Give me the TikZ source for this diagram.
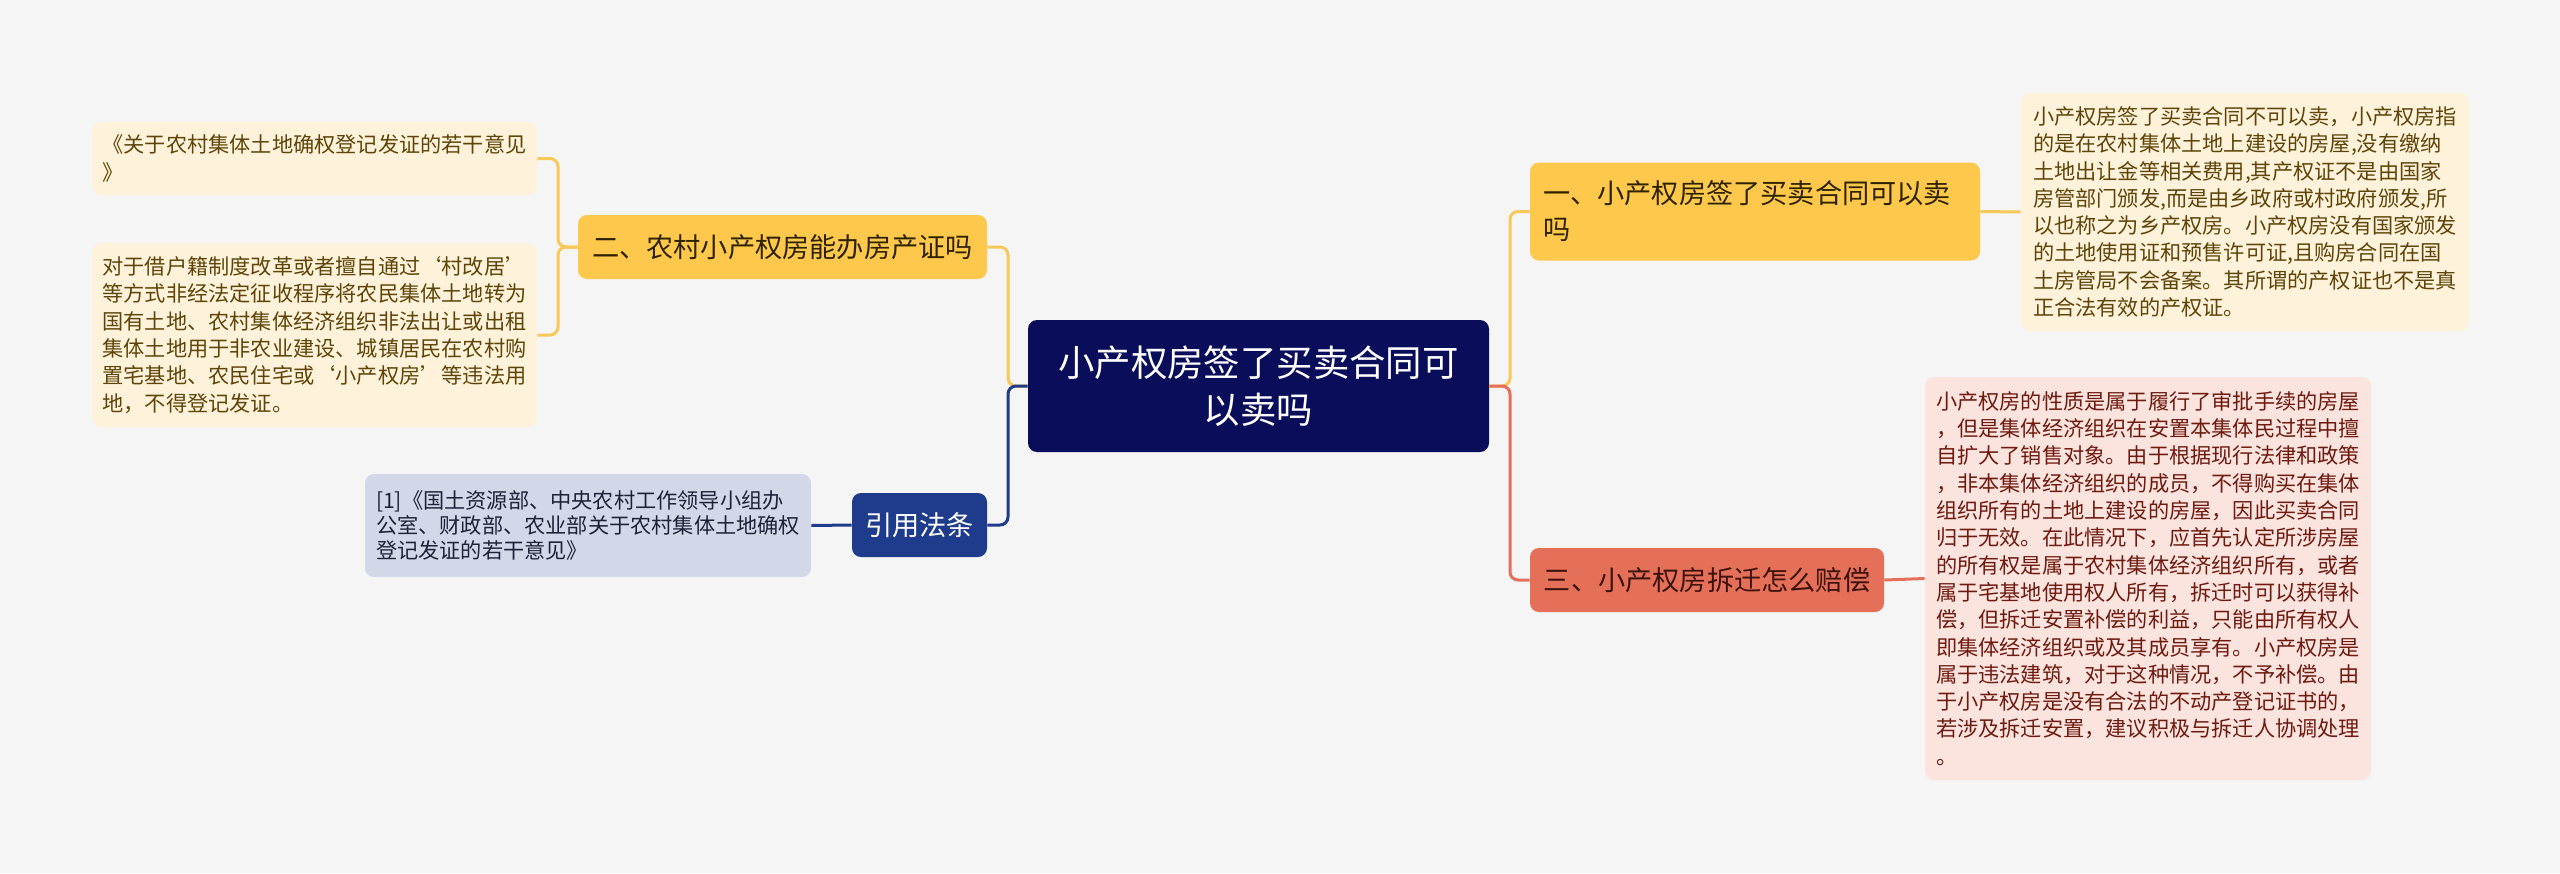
\documentclass[tikz,border=0pt]{standalone}
\usepackage{fontspec}
\setmainfont{Noto Sans CJK SC}
\newcommand{\fwq}[1]{{\addfontfeature{RawFeature=+fwid}#1}}
\definecolor{bgc}{HTML}{F5F5F5}
\definecolor{navy}{HTML}{0A0E5A}
\definecolor{amber}{HTML}{FDC84C}
\definecolor{amberline}{HTML}{F8C858}
\definecolor{coral}{HTML}{E5705A}
\definecolor{blueb}{HTML}{1F3C8C}
\definecolor{cream}{HTML}{FEF3DA}
\definecolor{pinkl}{HTML}{FBE3DE}
\definecolor{grayb}{HTML}{D3D8E8}
\definecolor{browntxt}{HTML}{5E4408}
\definecolor{redtxt}{HTML}{6E1A10}
\definecolor{darktxt}{HTML}{1E2238}
\definecolor{brtxt}{HTML}{2E2300}
\definecolor{cotxt}{HTML}{3D120A}
\begin{document}
\begin{tikzpicture}[x=0.5pt,y=-0.5pt,
  box/.style={rounded corners=4.5pt, inner sep=0pt},
  leaffont/.style={font=\fontsize{10.6pt}{13.65pt}\selectfont},
  brfont/.style={font=\fontsize{13.6pt}{18pt}\selectfont},
  conn/.style={line width=1.5pt, rounded corners=4pt}]
\fill[bgc] (0,0) rectangle (2560,873);
\useasboundingbox (0,0) rectangle (2560,873);
% center
\node[box, fill=navy, text=white, minimum width=230.5pt, minimum height=66pt, align=center,
  font=\fontsize{18.2pt}{23.7pt}\selectfont] (c) at (1258.5,386) {小产权房签了买卖合同可\\以卖吗};
% branches
\node[box, fill=amber, text=brtxt, brfont, minimum width=225pt, minimum height=49pt, align=left, text width=212pt] (b1) at (1755,211.5) {一、小产权房签了买卖合同可以卖\\吗};
\node[box, fill=amber, text=brtxt, brfont, minimum width=204.5pt, minimum height=32pt] (b2) at (782.5,247) {二、农村小产权房能办房产证吗};
\node[box, fill=coral, text=cotxt, brfont, minimum width=177pt, minimum height=32pt] (b3) at (1707,580) {三、小产权房拆迁怎么赔偿};
\node[box, fill=blueb, text=white, brfont, minimum width=67.5pt, minimum height=32pt] (b4) at (919.5,525) {引用法条};
% leaves
\node[box, fill=cream, text=browntxt, leaffont, minimum width=224pt, minimum height=119pt, align=left, text width=212pt] (l1) at (2245,212) {小产权房签了买卖合同不可以卖，小产权房指\\的是在农村集体土地上建设的房屋,没有缴纳\\土地出让金等相关费用,其产权证不是由国家\\房管部门颁发,而是由乡政府或村政府颁发,所\\以也称之为乡产权房。小产权房没有国家颁发\\的土地使用证和预售许可证,且购房合同在国\\土房管局不会备案。其所谓的产权证也不是真\\正合法有效的产权证。};
\node[box, fill=pinkl, text=redtxt, leaffont, minimum width=223pt, minimum height=201.5pt, align=left, text width=212pt] (l3) at (2148,578.5) {小产权房的性质是属于履行了审批手续的房屋\\，但是集体经济组织在安置本集体民过程中擅\\自扩大了销售对象。由于根据现行法律和政策\\，非本集体经济组织的成员，不得购买在集体\\组织所有的土地上建设的房屋，因此买卖合同\\归于无效。在此情况下，应首先认定所涉房屋\\的所有权是属于农村集体经济组织所有，或者\\属于宅基地使用权人所有，拆迁时可以获得补\\偿，但拆迁安置补偿的利益，只能由所有权人\\即集体经济组织或及其成员享有。小产权房是\\属于违法建筑，对于这种情况，不予补偿。由\\于小产权房是没有合法的不动产登记证书的，\\若涉及拆迁安置，建议积极与拆迁人协调处理\\。};
\node[box, fill=cream, text=browntxt, leaffont, minimum width=222.5pt, minimum height=36.5pt, align=left, text width=212pt] (l2a) at (314.5,158.5) {《关于农村集体土地确权登记发证的若干意见\\》};
\node[box, fill=cream, text=browntxt, leaffont, minimum width=222.5pt, minimum height=92pt, align=left, text width=212pt] (l2b) at (314.5,335) {对于借户籍制度改革或者擅自通过\fwq{‘}村改居\fwq{’}\\等方式非经法定征收程序将农民集体土地转为\\国有土地、农村集体经济组织非法出让或出租\\集体土地用于非农业建设、城镇居民在农村购\\置宅基地、农民住宅或\fwq{‘}小产权房\fwq{’}等违法用\\地，不得登记发证。};
\node[box, fill=grayb, text=darktxt, font=\fontsize{10.6pt}{12.6pt}\selectfont, minimum width=223pt, minimum height=51.5pt, align=left, text width=212pt] (l4) at (588,525.5) {[1]《国土资源部、中央农村工作领导小组办\\公室、财政部、农业部关于农村集体土地确权\\登记发证的若干意见》};
% junction coordinates
\coordinate (jr) at (1510,0);
\coordinate (jl) at (1008,0);
\coordinate (j2) at (558,0);
% connectors
\draw[conn, amberline] (c.east) -- (c.east -| jr) |- (b1.west);
\draw[conn, coral] (c.east) -- (c.east -| jr) |- (b3.west);
\draw[conn, amberline] (c.west) -- (c.west -| jl) |- (b2.east);
\draw[conn, blueb] (c.west) -- (c.west -| jl) |- (b4.east);
\draw[conn, amberline] (b2.west) -- (b2.west -| j2) |- (l2a.east);
\draw[conn, amberline] (b2.west) -- (b2.west -| j2) |- (l2b.east);
\draw[conn, amberline] (b1.east) -- (l1.west);
\draw[conn, coral] (b3.east) -- (l3.west);
\draw[conn, blueb] (b4.west) -- (l4.east);
\end{tikzpicture}
\end{document}
